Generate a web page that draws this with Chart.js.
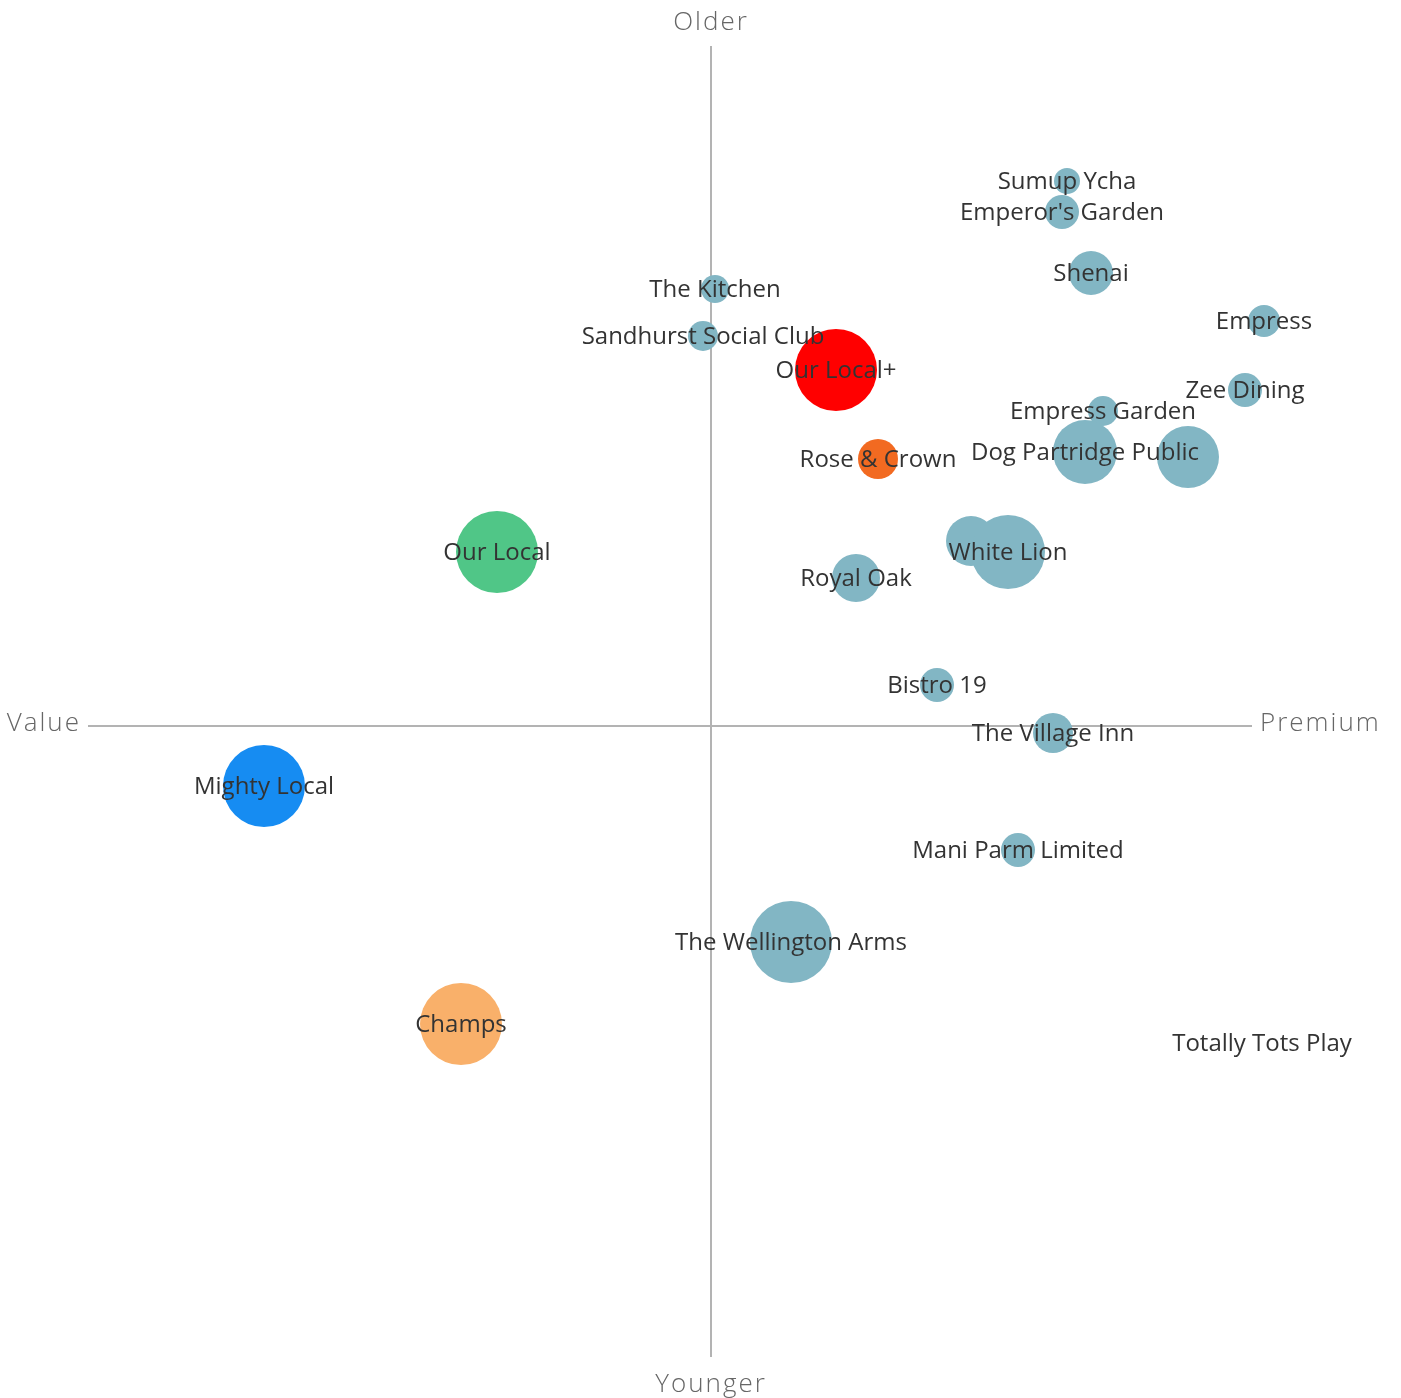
<!DOCTYPE html>
<html>
<head>
<meta charset="utf-8">
<title>Positioning map</title>
<script src="https://cdn.jsdelivr.net/npm/chart.js@4.4.1/dist/chart.umd.min.js"></script>
<style>
    body { margin: 0; background: #fff; }
    canvas { display: block; }
</style>
</head>
<body>
<canvas id="mapChart" width="1401" height="1398"></canvas>
<script>
const names = [
    'Sumup Ycha', "Emperor's Garden", 'Shenai', 'Empress', 'Zee Dining',
    'Empress Garden', 'Dog Partridge Public', '', '', 'White Lion',
    'The Kitchen', 'Sandhurst Social Club', 'Our Local+', 'Rose & Crown', 'Our Local',
    'Royal Oak', 'Bistro 19', 'The Village Inn', 'Mighty Local', 'Mani Parm Limited',
    'The Wellington Arms', 'Champs', 'Totally Tots Play'
];
// price position (value -> premium)
const priceScore = [
    35.6, 35.1, 38.0, 55.3, 53.4,
    39.2, 37.4, 47.7, 26.0, 29.7,
    0.4, -0.8, 12.5, 16.7, -21.4,
    14.5, 22.6, 34.2, -44.7, 30.7,
    8.0, -25.0, 55.1
];
// age position (younger -> older)
const ageScore = [
    54.5, 51.4, 45.3, 40.5, 33.6,
    31.5, 27.4, 26.9, 18.5, 17.4,
    43.7, 39.0, 35.6, 26.7, 17.4,
    14.8, 4.1, -0.7, -6.0, -12.4,
    -21.6, -29.8, -31.7
];
const bubbleSize = [
    13, 17, 22, 16, 17,
    15, 32, 31, 25, 37,
    14, 15, 41, 20, 41,
    24, 17, 20, 41, 17,
    41, 41, 0
];
const highlight = {
    'Our Local+': '#ff0000',
    'Rose & Crown': '#f26a21',
    'Our Local': '#50c687',
    'Mighty Local': '#168cf2',
    'Champs': '#f9b06a'
};
const axisLabels = { top: 'Older', bottom: 'Younger', left: 'Value', right: 'Premium' };

const xRange = [-62.3, 54.1];
const yRange = [-63.1, 68];

const points = names.map((n, i) => ({ x: priceScore[i], y: ageScore[i], r: bubbleSize[i], name: n }));
const colors = names.map(n => highlight[n] || '#82b6c4');

const quadrantPlugin = {
    id: 'quadrant',
    beforeDatasetsDraw(chart) {
        const ctx = chart.ctx;
        const area = chart.chartArea;
        const x0 = chart.scales.x.getPixelForValue(0);
        const y0 = chart.scales.y.getPixelForValue(0);
        ctx.save();
        ctx.strokeStyle = '#b3b3b3';
        ctx.lineWidth = 2;
        ctx.beginPath();
        ctx.moveTo(area.left, y0);
        ctx.lineTo(area.right, y0);
        ctx.moveTo(x0, area.top);
        ctx.lineTo(x0, area.bottom);
        ctx.stroke();

        ctx.fillStyle = '#666';
        ctx.font = '300 26px "Open Sans"';
        ctx.letterSpacing = '2px';
        ctx.textBaseline = 'middle';
        ctx.textAlign = 'center';
        ctx.fillText(axisLabels.top, x0, area.top - 23);
        ctx.fillText(axisLabels.bottom, x0, area.bottom + 28);
        ctx.textAlign = 'right';
        ctx.fillText(axisLabels.left, area.left - 7, y0 - 2);
        ctx.textAlign = 'left';
        ctx.fillText(axisLabels.right, area.right + 8, y0 - 2);
        ctx.restore();
    },
    afterDatasetsDraw(chart) {
        const ctx = chart.ctx;
        const meta = chart.getDatasetMeta(0);
        ctx.save();
        ctx.fillStyle = '#333';
        ctx.font = '24px "Open Sans"';
        ctx.textAlign = 'center';
        ctx.textBaseline = 'middle';
        meta.data.forEach((el, i) => {
            if (!names[i]) return;
            ctx.fillText(names[i], el.x, el.y + 1);
        });
        ctx.restore();
    }
};

new Chart(document.getElementById('mapChart').getContext('2d'), {
    type: 'bubble',
    data: {
        datasets: [{
            data: points,
            backgroundColor: colors,
            borderWidth: 0,
            hoverBorderWidth: 0,
            clip: false
        }]
    },
    options: {
        responsive: false,
        animation: false,
        layout: { padding: { left: 88, right: 149, top: 46, bottom: 41 } },
        plugins: {
            legend: { display: false },
            tooltip: { enabled: false }
        },
        scales: {
            x: { type: 'linear', min: xRange[0], max: xRange[1], display: false },
            y: { type: 'linear', min: yRange[0], max: yRange[1], display: false }
        }
    },
    plugins: [quadrantPlugin]
});
</script>
</body>
</html>
